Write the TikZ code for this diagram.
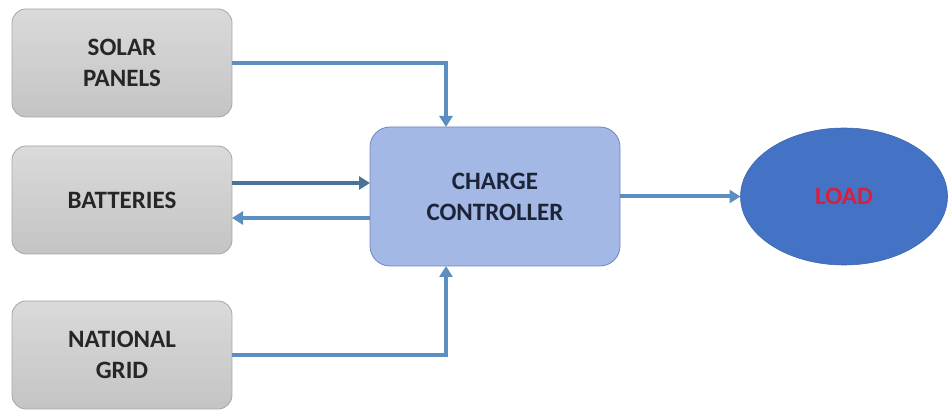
\documentclass[tikz,border=0pt]{standalone}
\usepackage{fontspec}
\setmainfont{Carlito}
\usetikzlibrary{shapes.geometric,arrows.meta}
\definecolor{srcedge}{HTML}{A6A6A6}
\definecolor{srctop}{HTML}{DADADA}
\definecolor{srcbot}{HTML}{C4C4C4}
\definecolor{ctrlfill}{HTML}{A4B8E6}
\definecolor{ctrledge}{HTML}{6D87C2}
\definecolor{loadfill}{HTML}{4472C4}
\definecolor{loadtext}{HTML}{D6203C}
\definecolor{linkblue}{HTML}{5B8FC2}
\definecolor{linkdark}{HTML}{4A7399}
\definecolor{ctrltext}{HTML}{1C2438}
\tikzset{
  srcbox/.style={draw=srcedge, line width=0.8pt, rounded corners=14pt,
    top color=srctop, bottom color=srcbot, minimum width=220pt,
    minimum height=108pt, align=center, text=black!85,
    font=\bfseries\fontsize{25}{31}\selectfont},
  ctrlbox/.style={draw=ctrledge, line width=0.8pt, rounded corners=20pt,
    fill=ctrlfill, minimum width=250pt, minimum height=139pt,
    align=center, text=ctrltext, font=\bfseries\fontsize{25}{31}\selectfont},
  loadnode/.style={ellipse, draw=loadfill!90!black, line width=0.6pt,
    fill=loadfill, minimum width=207pt, minimum height=137pt,
    text=loadtext, font=\bfseries\fontsize{25}{31}\selectfont},
  link/.style={draw=linkblue, line width=4pt,
    -{Triangle[length=11pt,width=13pt]}},
}
\begin{document}
\begin{tikzpicture}[y=1pt, x=1pt, yscale=-1, inner sep=0pt, outer sep=0pt]
\path[use as bounding box] (0,0) rectangle (948,411);
% sources on the left
\node[srcbox] (solar) at (122,63) {SOLAR\\PANELS};
\node[srcbox] (batt) at (122,200) {BATTERIES};
\node[srcbox] (grid) at (122,355) {NATIONAL\\GRID};
% controller and load
\node[ctrlbox] (ctrl) at (495,196.5) {CHARGE\\CONTROLLER};
\node[loadnode] (load) at (844,196.5) {LOAD};
% connectors
\draw[link] (solar.east) -| (ctrl.north -| 446,0);
\draw[link] (grid.east) -| (ctrl.south -| 446,0);
\draw[link, draw=linkdark] (batt.east |- 0,183) -- (ctrl.west |- 0,183);
\draw[link] (ctrl.west |- 0,218) -- (batt.east |- 0,218);
\draw[link] (ctrl.east) -- (load.west);
\end{tikzpicture}
\end{document}
